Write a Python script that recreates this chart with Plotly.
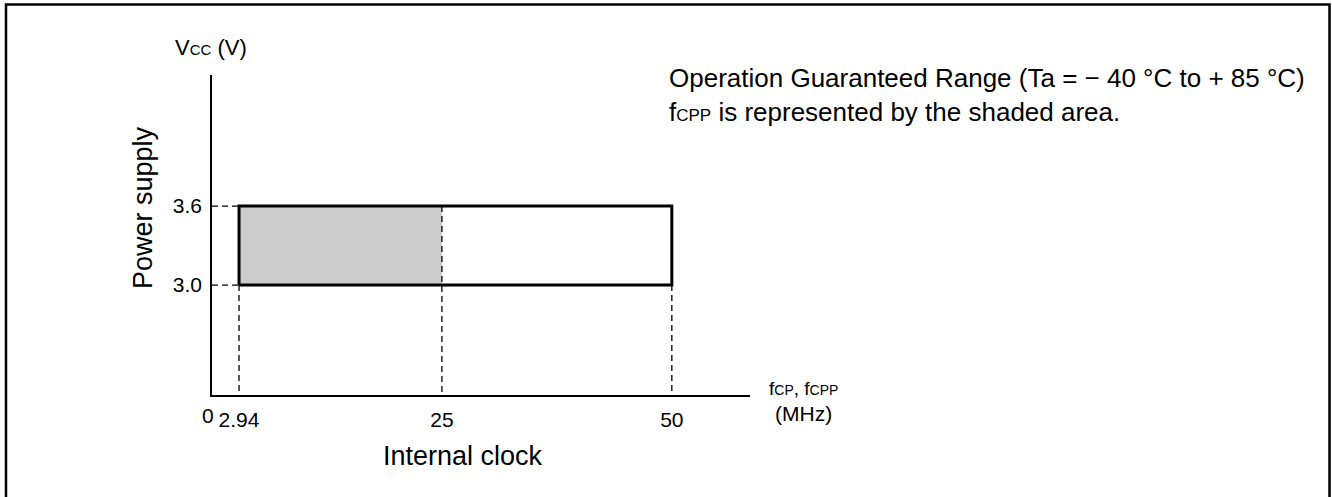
import plotly.graph_objects as go

# ---- data ----
freq_min = 2.94      # MHz, lower clock limit
freq_cpp_max = 25    # MHz, upper limit of fCPP (shaded)
freq_max = 50        # MHz, upper limit of fCP
vcc_min = 3.0        # V
vcc_max = 3.6        # V
x_tick_vals = [2.94, 25, 50]
x_tick_text = ["2.94", "25", "50"]
y_tick_vals = [3.0, 3.6]
y_tick_text = ["3.0", "3.6"]
origin_label = "0"

W, H = 1332, 497
L, R, T, B = 212, 750, 75, 395   # plot area in pixels
FONT = "Liberation Sans, Arial, Helvetica, sans-serif"


def px(xp):
    return (xp - L) / (R - L)


def py(yp):
    return (B - yp) / (B - T)


x_range = [0, 58.5]
y_range = [2.165, 4.595]
y_base = y_range[0]

fig = go.Figure()

# shaded fCPP area
fig.add_trace(go.Scatter(
    x=[freq_min, freq_cpp_max, freq_cpp_max, freq_min, freq_min],
    y=[vcc_min, vcc_min, vcc_max, vcc_max, vcc_min],
    fill="toself", fillcolor="#cccccc", mode="lines",
    line=dict(width=0), hoverinfo="skip", showlegend=False))

# dashed guide lines
dx, dy = [], []
for v in [vcc_min, vcc_max]:
    dx += [0, freq_min, None]
    dy += [v, v, None]
for f in [freq_min, freq_max]:
    dx += [f, f, None]
    dy += [vcc_min, y_base, None]
dx += [freq_cpp_max, freq_cpp_max, None]
dy += [vcc_max, y_base, None]
fig.add_trace(go.Scatter(
    x=dx, y=dy, mode="lines",
    line=dict(color="black", width=1.3, dash="6px,4px"),
    hoverinfo="skip", showlegend=False))

# outline of the operating range
fig.add_trace(go.Scatter(
    x=[freq_min, freq_max, freq_max, freq_min, freq_min],
    y=[vcc_min, vcc_min, vcc_max, vcc_max, vcc_min],
    mode="lines", line=dict(color="black", width=3),
    hoverinfo="skip", showlegend=False))

fig.update_xaxes(
    range=x_range, showgrid=False, zeroline=False,
    showline=True, linecolor="black", linewidth=1.5,
    tickmode="array", tickvals=x_tick_vals, ticktext=x_tick_text,
    ticks="", ticklabelstandoff=5,
    tickfont=dict(family=FONT, size=21, color="black"))
fig.update_yaxes(
    range=y_range, showgrid=False, zeroline=False,
    showline=True, linecolor="black", linewidth=1.5,
    tickmode="array", tickvals=y_tick_vals, ticktext=y_tick_text,
    ticks="", ticklabelstandoff=4,
    tickfont=dict(family=FONT, size=21, color="black"))

annots = [
    dict(x=px(208), y=py(415), text=origin_label,
         xanchor="center", yanchor="middle", font=dict(size=21)),
    dict(x=px(211), y=py(48), text="V<span style='font-size:15px'>CC</span> (V)",
         xanchor="center", yanchor="middle", font=dict(size=22)),
    dict(x=px(143), y=py(208), text="Power supply", textangle=-90,
         xanchor="center", yanchor="middle", font=dict(size=27)),
    dict(x=px(463), y=py(456), text="Internal clock",
         xanchor="center", yanchor="middle", font=dict(size=27)),
    dict(x=px(767), y=py(388),
         text="f<span style='font-size:14px'>CP</span>, f<span style='font-size:14px'>CPP</span>",
         xanchor="left", yanchor="middle", font=dict(size=19)),
    dict(x=px(803), y=py(413), text="(MHz)",
         xanchor="center", yanchor="middle", font=dict(size=21)),
    dict(x=px(667), y=py(95),
         text=("Operation Guaranteed Range (Ta = − 40 °C to + 85 °C)<br>"
               "f<span style='font-size:17px'>CPP</span> is represented by the shaded area."),
         xanchor="left", yanchor="middle", align="left", font=dict(size=26)),
]
for a in annots:
    a.update(xref="paper", yref="paper", showarrow=False)
    a["font"].update(family=FONT, color="black")
    fig.add_annotation(**a)

# outer frame (left, top, right edges)
fig.add_shape(type="path", xref="paper", yref="paper",
              path=f"M {px(6)},{py(505)} L {px(6)},{py(4.5)} L {px(1329.5)},{py(4.5)} L {px(1329.5)},{py(505)}",
              line=dict(color="black", width=2.5))

fig.update_layout(
    width=W, height=H,
    margin=dict(l=L, r=W - R, t=T, b=H - B),
    plot_bgcolor="white", paper_bgcolor="white",
    font=dict(family=FONT, color="black"),
    showlegend=False)

fig.write_html("out.html", config={"displayModeBar": False},
               post_script="document.body.style.margin='0px';document.body.style.overflow='hidden';")
